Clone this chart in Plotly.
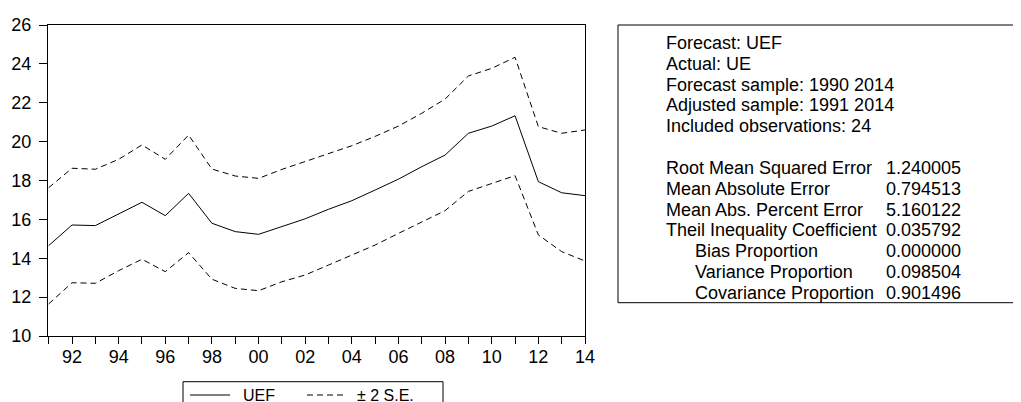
import plotly.graph_objects as go

# ---------------- data ----------------
years = list(range(1991, 2015))
uef = [14.65, 15.71, 15.68, 16.26, 16.88, 16.19, 17.34, 15.80, 15.37, 15.23,
       15.64, 16.03, 16.52, 16.96, 17.51, 18.07, 18.71, 19.31, 20.43, 20.80,
       21.33, 17.94, 17.37, 17.22]
upper = [17.63, 18.63, 18.58, 19.09, 19.83, 19.09, 20.34, 18.59, 18.23, 18.11,
         18.57, 18.97, 19.40, 19.79, 20.27, 20.80, 21.46, 22.19, 23.38, 23.77,
         24.34, 20.77, 20.43, 20.60]
lower = [11.65, 12.74, 12.71, 13.36, 13.95, 13.31, 14.29, 12.92, 12.45, 12.33,
         12.79, 13.14, 13.65, 14.17, 14.68, 15.28, 15.88, 16.45, 17.44, 17.85,
         18.25, 15.20, 14.34, 13.86]
x_tick_labels = [("%02d" % (y % 100)) if y % 2 == 0 else "" for y in years]
y_tick_vals = [10, 12, 14, 16, 18, 20, 22, 24, 26]

legend_labels = ["UEF", "± 2 S.E."]

info_lines = ["Forecast: UEF", "Actual: UE", "Forecast sample: 1990 2014",
              "Adjusted sample: 1991 2014", "Included observations: 24"]
stat_names = ["Root Mean Squared Error", "Mean Absolute Error",
              "Mean Abs. Percent Error", "Theil Inequality Coefficient",
              "Bias Proportion", "Variance Proportion", "Covariance Proportion"]
stat_values = ["1.240005", "0.794513", "5.160122", "0.035792",
               "0.000000", "0.098504", "0.901496"]
stat_indent = [0, 0, 0, 0, 1, 1, 1]

# ---------------- layout geometry ----------------
W, H = 1021, 402
OFF = 8                      # page (body) margin of the html document
L, T = 48 - OFF, 25 - OFF
PW, PH = 537, 311
R = W - L - PW
B = H - T - PH
FONT = "Liberation Sans, Arial, sans-serif"
DASH = "6px,4px"


def px2x(px):
    """screen pixel x -> paper coordinate"""
    return (px - OFF - L) / PW


def py2y(py):
    """screen pixel y -> paper coordinate"""
    return (H - B - (py - OFF)) / PH


fig = go.Figure()
fig.add_trace(go.Scatter(x=years, y=uef, mode="lines", name=legend_labels[0],
                         line=dict(color="black", width=1)))
fig.add_trace(go.Scatter(x=years, y=upper, mode="lines", name=legend_labels[1],
                         legendgroup="se",
                         line=dict(color="black", width=1, dash=DASH)))
fig.add_trace(go.Scatter(x=years, y=lower, mode="lines", name=legend_labels[1],
                         legendgroup="se",
                         line=dict(color="black", width=1, dash=DASH)))


def txt(text, sx, sy, size=18):
    return dict(text=text, x=px2x(sx), y=py2y(sy), xref="paper", yref="paper",
                xanchor="left", yanchor="middle", showarrow=False,
                font=dict(size=size, color="black", family=FONT))


annotations = []
line_h = 20.7
for i, t in enumerate(info_lines):
    annotations.append(txt(t, 664, 43.3 + i * line_h))
for i, (nm, val, ind) in enumerate(zip(stat_names, stat_values, stat_indent)):
    sy = 168.3 + i * line_h
    annotations.append(txt(nm, 664 + 29 * ind, sy))
    annotations.append(txt(val, 884, sy))

# legend (drawn as a boxed key below the plot)
annotations.append(txt(legend_labels[0], 241, 395, size=16))
annotations.append(txt(legend_labels[1], 355, 395, size=16))

shapes = [
    # statistics box
    dict(type="rect", xref="paper", yref="paper",
         x0=px2x(618), x1=px2x(1040), y0=py2y(302.7), y1=py2y(25),
         line=dict(color="black", width=1), fillcolor="rgba(0,0,0,0)"),
    # legend box
    dict(type="rect", xref="paper", yref="paper",
         x0=px2x(183), x1=px2x(443), y0=py2y(420), y1=py2y(381.7),
         line=dict(color="black", width=1), fillcolor="rgba(0,0,0,0)"),
    # legend samples
    dict(type="line", xref="paper", yref="paper",
         x0=px2x(190), x1=px2x(230), y0=py2y(395), y1=py2y(395),
         line=dict(color="black", width=1)),
    dict(type="line", xref="paper", yref="paper",
         x0=px2x(307), x1=px2x(347), y0=py2y(395), y1=py2y(395),
         line=dict(color="black", width=1, dash=DASH)),
]

fig.update_layout(
    width=W, height=H,
    margin=dict(l=L, r=R, t=T, b=B, autoexpand=False),
    paper_bgcolor="white", plot_bgcolor="white",
    font=dict(family=FONT, size=18, color="black"),
    showlegend=False,
    xaxis=dict(range=[1990.97, 2014.0], tickvals=years, ticktext=x_tick_labels,
               ticks="outside", ticklen=7, tickcolor="black", tickwidth=1,
               showline=True, linecolor="black", linewidth=1, mirror=True,
               showgrid=False, zeroline=False, tickfont=dict(size=18),
               ticklabelstandoff=-3),
    yaxis=dict(range=[10, 26], tickvals=y_tick_vals,
               ticks="outside", ticklen=8, tickcolor="black", tickwidth=1,
               showline=True, linecolor="black", linewidth=1, mirror=True,
               showgrid=False, zeroline=False, tickfont=dict(size=18),
               ticklabelstandoff=4),
    annotations=annotations,
    shapes=shapes,
)

fig.write_html("out.html")
